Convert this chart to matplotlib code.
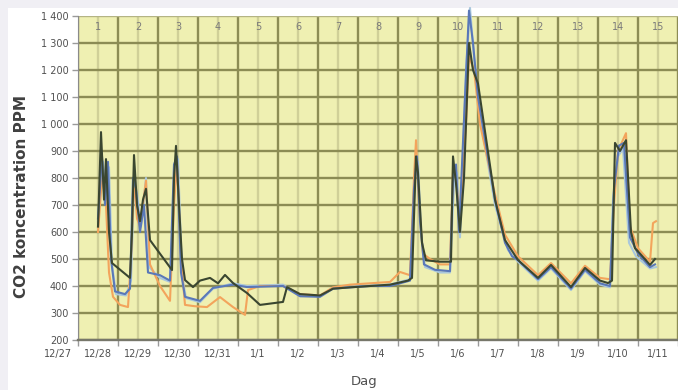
import matplotlib
matplotlib.use("Agg")
import matplotlib.pyplot as plt
import matplotlib.transforms as mtransforms
from matplotlib.patches import Rectangle
import numpy as np

# ---- data (days since 12/27 00:00, CO2 ppm) ----
date_labels = ['12/27', '12/28', '12/29', '12/30', '12/31', '1/1', '1/2', '1/3',
               '1/4', '1/5', '1/6', '1/7', '1/8', '1/9', '1/10', '1/11']
day_numbers = [str(i) for i in range(1, 16)]
y_ticks = list(range(200, 1401, 100))

t_dark = [0.50, 0.575, 0.65, 0.70, 0.775, 0.85, 1.30, 1.35, 1.40, 1.475, 1.55, 1.625, 1.70, 1.80,
          2.35, 2.40, 2.45, 2.525, 2.60, 2.675, 2.875, 3.05, 3.30, 3.50, 3.675, 3.875, 4.225, 4.55,
          5.125, 5.225, 5.55, 6.05, 6.375, 6.80, 7.30, 7.80, 8.25, 8.35, 8.45, 8.50, 8.60, 8.70,
          9.05, 9.325, 9.375, 9.45, 9.55, 9.65, 9.775, 9.875, 10.00, 10.425, 10.675, 11.00, 11.50,
          11.825, 12.325, 12.675, 13.05, 13.25, 13.35, 13.425, 13.55, 13.70, 13.825, 13.925,
          14.05, 14.30, 14.425]
co2_dark = [620, 970, 720, 870, 600, 485, 430, 600, 885, 700, 640, 720, 760, 570,
            459, 800, 919, 700, 500, 422, 396, 420, 430, 410, 441, 411, 374, 330,
            341, 396, 370, 365, 390, 395, 400, 405, 420, 430, 880, 820, 560, 495,
            490, 490, 880, 780, 600, 800, 1300, 1200, 1150, 720, 570, 496, 430,
            478, 396, 467, 420, 411, 420, 930, 900, 940, 600, 540,
            520, 478, 500]

t_orange = [0.50, 0.575, 0.625, 0.70, 0.775, 0.875, 1.05, 1.25, 1.325, 1.40, 1.475, 1.55, 1.70, 1.80,
            2.05, 2.30, 2.40, 2.475, 2.575, 2.675, 2.925, 3.225, 3.55, 3.875, 4.175, 4.25, 4.55,
            5.125, 5.55, 6.05, 6.375, 6.80, 7.30, 7.80, 8.05, 8.30, 8.40, 8.45, 8.525, 8.625, 8.80,
            9.05, 9.30, 9.375, 9.45, 9.55, 9.70, 9.775, 9.90, 10.05, 10.425, 10.675, 11.00, 11.50,
            11.825, 12.325, 12.675, 13.05, 13.30, 13.40, 13.50, 13.70, 13.80, 14.00, 14.30, 14.375, 14.45]
co2_orange = [600, 750, 818, 700, 450, 360, 330, 322, 500, 800, 650, 620, 790, 480,
              400, 345, 700, 860, 500, 330, 325, 322, 359, 322, 293, 385, 400,
              400, 370, 365, 395, 405, 410, 415, 452, 440, 800, 940, 700, 520, 500,
              480, 480, 830, 800, 650, 1000, 1250, 1200, 1000, 740, 590, 510, 440,
              485, 410, 475, 430, 425, 700, 900, 966, 620, 540, 490, 633, 640]

t_blue = [0.50, 0.60, 0.675, 0.75, 0.825, 0.925, 1.175, 1.30, 1.375, 1.45, 1.55, 1.65, 1.75,
          2.05, 2.30, 2.40, 2.475, 2.575, 2.675, 3.05, 3.375, 3.875, 4.225, 5.125, 5.55,
          6.05, 6.375, 6.80, 7.30, 7.80, 8.30, 8.40, 8.475, 8.55, 8.65, 8.925,
          9.30, 9.375, 9.45, 9.525, 9.675, 9.775, 9.875, 10.00, 10.425, 10.675, 10.85,
          11.00, 11.50, 11.825, 12.325, 12.675, 13.05, 13.30, 13.40, 13.525, 13.65, 13.80,
          14.00, 14.30, 14.425]
co2_blue = [650, 880, 700, 860, 500, 380, 370, 390, 800, 760, 600, 700, 450,
            440, 420, 850, 880, 450, 360, 345, 393, 405, 396, 400, 362,
            360, 390, 395, 400, 400, 420, 760, 880, 640, 480, 460,
            455, 800, 850, 600, 1100, 1420, 1300, 1100, 720, 560, 510,
            496, 425, 470, 390, 460, 410, 400, 760, 920, 930, 580,
            520, 470, 480]

t_light = [0.50, 0.625, 0.70, 0.775, 0.85, 0.95, 1.20, 1.325, 1.40, 1.475, 1.575, 1.70, 1.775,
           2.05, 2.30, 2.425, 2.50, 2.60, 2.70, 3.05, 3.375, 3.875, 4.225, 5.125, 5.55,
           6.05, 6.375, 6.80, 7.30, 7.80, 8.30, 8.425, 8.50, 8.575, 8.675,
           9.05, 9.30, 9.40, 9.475, 9.55, 9.70, 9.80, 9.90, 10.025, 10.425, 10.75,
           11.00, 11.50, 11.825, 12.325, 12.675, 13.05, 13.30, 13.375, 13.50, 13.625, 13.775, 13.95,
           14.30, 14.45]
co2_light = [640, 860, 720, 840, 480, 370, 365, 420, 780, 740, 620, 800, 470,
             430, 415, 820, 870, 440, 355, 340, 390, 410, 400, 405, 365,
             362, 393, 398, 402, 405, 425, 800, 860, 600, 470,
             450, 450, 780, 820, 580, 1200, 1430, 1250, 1050, 700, 533,
             490, 420, 465, 385, 455, 405, 395, 720, 880, 910, 560, 510,
             465, 470]

# ---- figure ----
W, H = 678, 390
fig = plt.figure(figsize=(W / 100, H / 100), dpi=100)
fig.patch.set_facecolor('#f0eff4')
fig.add_artist(Rectangle((8 / W, 0), 1, 1 - 8 / H, transform=fig.transFigure,
                         facecolor='white', edgecolor='none', zorder=-5))

ax = fig.add_axes([78 / W, 1 - 340 / H, 600 / W, 324 / H])
ax.set_facecolor('#eff0b2')
ax.set_xlim(0, 15)
ax.set_ylim(200, 1400)
ax.set_axisbelow(True)

ax.set_yticks(y_ticks)
ax.set_yticklabels([f"{v:,}".replace(',', ' ') for v in y_ticks])
ax.set_xticks(range(len(date_labels)))
ax.set_xticklabels([])
ax.set_xticks(np.arange(0.5, 15, 1), minor=True)

ax.grid(which='major', color='#8c8c54', lw=1.7)
ax.grid(which='minor', axis='x', color='#d0d098', lw=1.7)
ax.get_ygridlines()[-1].set_color('#b4b484')
ax.tick_params(which='minor', length=0)
ax.tick_params(which='major', length=4, width=1, color='#9a9a9a',
               labelsize=7, labelcolor='#505050', pad=3)

for s in ['top', 'right']:
    ax.spines[s].set_visible(False)
ax.spines['left'].set_color('#8a8a8a')
ax.spines['bottom'].set_color('#77776a')
ax.spines['bottom'].set_linewidth(1.7)

series = [
    (t_light, co2_light, '#a9c7dc'),
    (t_orange, co2_orange, '#f3a45c'),
    (t_blue, co2_blue, '#5a78b8'),
    (t_dark, co2_dark, '#3a4630'),
]
for t, v, c in series:
    ax.plot(t, v, color=c, lw=1.5, clip_on=False, zorder=3)

trans = mtransforms.blended_transform_factory(ax.transData, ax.transAxes)
for i, lab in enumerate(date_labels):
    ax.text(i - 0.5, -0.028, lab, transform=trans, ha='center', va='top',
            fontsize=7, color='#505050', clip_on=False)
for i, lab in enumerate(day_numbers):
    ax.text(i + 0.5, 0.966, lab, transform=trans, ha='center', va='center',
            fontsize=7, color='#7a7a7a', zorder=4)

fig.text(22 / W, 1 - 197 / H, 'CO2 koncentration PPM', rotation=90,
         ha='center', va='center', fontsize=11, fontweight='bold', color='#404040')
fig.text(364 / W, 1 - 381 / H, 'Dag', ha='center', va='center',
         fontsize=9.5, color='#505050')

fig.savefig('out.png', dpi=100)
